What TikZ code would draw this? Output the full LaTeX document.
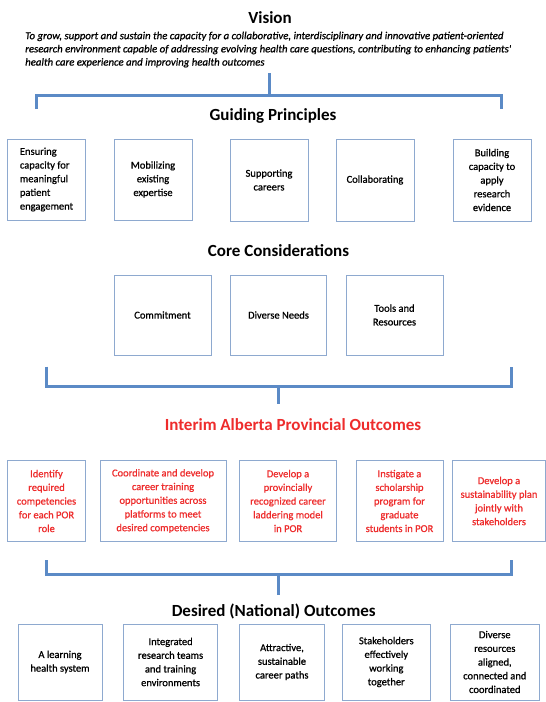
\documentclass[tikz,border=0pt]{standalone}
\usepackage{fontspec}
\setmainfont{Carlito}
\newfontfamily\boxfont[FakeBold=0.8]{Carlito}
\usetikzlibrary{shadows}
\definecolor{brk}{HTML}{5B8AC6}
\definecolor{bxline}{HTML}{8EA9CF}
\definecolor{redtx}{HTML}{EE2C2C}
\tikzset{
  brace/.style={draw=brk,line width=3pt,line join=miter},
  title/.style={font=\fontsize{17}{20}\selectfont\bfseries,inner sep=0pt},
  cell/.style={draw=bxline,line width=0.9pt,fill=white,align=center,inner sep=2pt,
    font=\boxfont\fontsize{10.5}{13.7}\selectfont,
    drop shadow={shadow xshift=0.8pt,shadow yshift=-0.9pt,fill=black,opacity=0.22}},
  redcell/.style={cell,text=redtx},
}
\begin{document}
\begin{tikzpicture}[x=1pt,y=-1pt]
\useasboundingbox[fill=white] (0,0) rectangle (546,702);

% Vision
\node[title] (vision) at (270,17.4) {Vision};
\node[anchor=north west,inner sep=0pt,align=left,font=\boxfont\fontsize{10.8}{13.2}\selectfont\itshape] (vtext) at (25,31.5)
 {To grow, support and sustain the capacity for a collaborative, interdisciplinary and innovative patient-oriented\\
  research environment capable of addressing evolving health care questions, contributing to enhancing patients'\\
  health care experience and improving health outcomes};

% bracket 1
\coordinate (s1t) at (269,73);
\coordinate (s1b) at (269,95);
\coordinate (b1l) at (36.6,109);
\coordinate (b1r) at (501,109);
\draw[brace] (s1t) -- (s1b);
\draw[brace] (b1l) |- (s1b) -| (b1r);

% Guiding principles
\node[title] (gp) at (273,115.7) {Guiding Principles};
\node[cell,minimum width=78pt,minimum height=81pt,align=left] (g1) at (46.5,179.5)
 {Ensuring\\capacity for\\meaningful\\patient\\engagement};
\node[cell,minimum width=78pt,minimum height=81pt] (g2) at (153,179.5) {Mobilizing\\existing\\expertise};
\node[cell,minimum width=78pt,minimum height=82pt] (g3) at (269,180) {Supporting\\careers};
\node[cell,minimum width=78pt,minimum height=82pt] (g4) at (375,180) {Collaborating};
\node[cell,minimum width=78pt,minimum height=82pt] (g5) at (492,180) {Building\\capacity to\\apply\\research\\evidence};

% Core considerations
\node[title] (cc) at (278.5,251) {Core Considerations};
\node[cell,minimum width=97pt,minimum height=80pt] (c1) at (162.5,315) {Commitment};
\node[cell,minimum width=96pt,minimum height=80pt] (c2) at (278.5,315) {Diverse Needs};
\node[cell,minimum width=97pt,minimum height=80pt] (c3) at (394.5,315) {Tools and\\Resources};

% bracket 2
\coordinate (b2l) at (46,366.5);
\coordinate (b2r) at (511,366.5);
\coordinate (s2t) at (278.5,386.7);
\coordinate (s2b) at (278.5,404);
\draw[brace] (b2l) |- (s2t) -| (b2r);
\draw[brace] (s2t) -- (s2b);

% Interim
\node[title,text=redtx] (ia) at (293,425) {Interim Alberta Provincial Outcomes};
\node[redcell,minimum width=77.6pt,minimum height=81pt] (i1) at (46.5,501) {Identify\\required\\competencies\\for each POR\\role};
\node[redcell,minimum width=126pt,minimum height=81pt] (i2) at (163,501) {Coordinate and develop\\career training\\opportunities across\\platforms to meet\\desired competencies};
\node[redcell,minimum width=97pt,minimum height=81pt] (i3) at (288,501) {Develop a\\provincially\\recognized career\\laddering model\\in POR};
\node[redcell,minimum width=87pt,minimum height=81pt] (i4) at (399.5,501) {Instigate a\\scholarship\\program for\\graduate\\students in POR};
\node[redcell,minimum width=93pt,minimum height=81pt] (i5) at (499,501) {Develop a\\sustainability plan\\jointly with\\stakeholders};

% bracket 3
\coordinate (b3l) at (46,560);
\coordinate (b3r) at (511,560);
\coordinate (s3t) at (278.5,574);
\coordinate (s3b) at (278.5,595);
\draw[brace] (b3l) |- (s3t) -| (b3r);
\draw[brace] (s3t) -- (s3b);

% Desired outcomes
\node[title] (dn) at (273.7,611.5) {Desired (National) Outcomes};
\node[cell,minimum width=84pt,minimum height=76pt] (d1) at (60,662) {A learning\\health system};
\node[cell,minimum width=94pt,minimum height=76pt] (d2) at (170.6,662) {Integrated\\research teams\\and training\\environments};
\node[cell,minimum width=85pt,minimum height=76pt] (d3) at (282,662) {Attractive,\\sustainable\\career paths};
\node[cell,minimum width=88.7pt,minimum height=76pt] (d4) at (386.3,662) {Stakeholders\\effectively\\working\\together};
\node[cell,minimum width=89.7pt,minimum height=76pt] (d5) at (494.8,662) {Diverse\\resources\\aligned,\\connected and\\coordinated};
\end{tikzpicture}
\end{document}
